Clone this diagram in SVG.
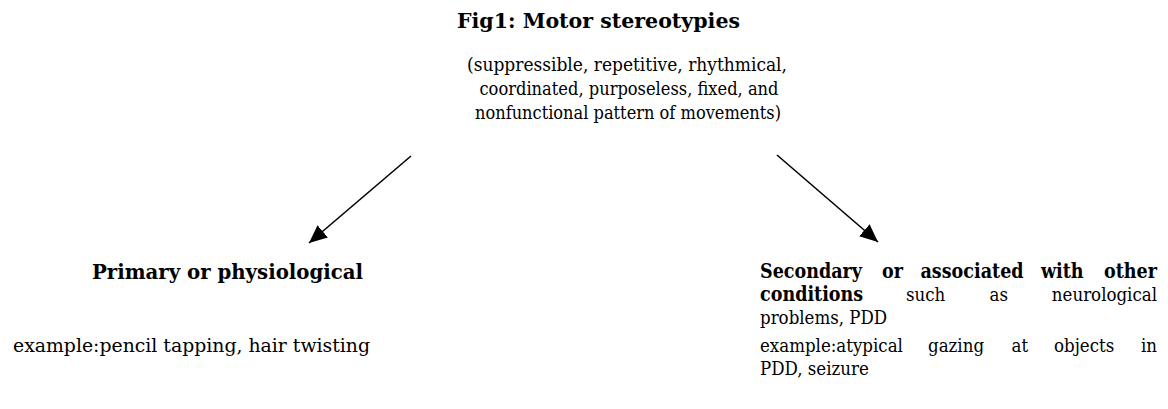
<svg xmlns="http://www.w3.org/2000/svg" width="1168" height="409" viewBox="0 0 1168 409">
<style>
text{font-family:"DejaVu Serif Condensed","DejaVu Serif","Liberation Serif",serif;font-stretch:condensed;fill:#000}
.b{font-weight:bold;font-size:19.5px}
.r{font-size:18.5px}
.e{text-anchor:end}
.conn{stroke:#000;stroke-width:1.6;fill:none}
</style>
<defs>
<marker id="ah" markerUnits="userSpaceOnUse" markerWidth="19" markerHeight="17" refX="18" refY="8" orient="auto">
<path d="M0,0 L18,8 L0,16 z" fill="#000"/>
</marker>
</defs>
<rect width="1168" height="409" fill="#fff"/>
<g id="root">
<text class="b" x="598.5" y="28" text-anchor="middle" textLength="283" lengthAdjust="spacingAndGlyphs">Fig1: Motor stereotypies</text>
<text class="r" x="627" y="71" text-anchor="middle" textLength="320" lengthAdjust="spacingAndGlyphs">(suppressible, repetitive, rhythmical,</text>
<text class="r" x="629" y="95" text-anchor="middle" textLength="299" lengthAdjust="spacingAndGlyphs">coordinated, purposeless, fixed, and</text>
<text class="r" x="628" y="119" text-anchor="middle" textLength="306" lengthAdjust="spacingAndGlyphs">nonfunctional pattern of movements)</text>
</g>
<g id="primary">
<text class="b" x="92" y="279" textLength="271" lengthAdjust="spacingAndGlyphs">Primary or physiological</text>
<text class="r" x="13" y="352" textLength="357" lengthAdjust="spacingAndGlyphs">example:pencil tapping, hair twisting</text>
</g>
<g id="secondary">
<text class="b" x="760" y="278">Secondary</text>
<text class="b" x="882" y="278">or</text>
<text class="b" x="920.5" y="278">associated</text>
<text class="b" x="1041" y="278">with</text>
<text class="b e" x="1157" y="278">other</text>
<text class="b" x="760" y="301">conditions</text>
<text class="r" x="906" y="301">such</text>
<text class="r" x="989.5" y="301">as</text>
<text class="r e" x="1157" y="301">neurological</text>
<text class="r" x="760" y="324">problems, PDD</text>
<text class="r" x="760" y="352">example:atypical</text>
<text class="r" x="928" y="352">gazing</text>
<text class="r" x="1011.5" y="352">at</text>
<text class="r" x="1054" y="352">objects</text>
<text class="r e" x="1157" y="352">in</text>
<text class="r" x="760" y="375">PDD, seizure</text>
</g>
<g id="connectors">
<line class="conn" x1="411" y1="156" x2="309" y2="243" marker-end="url(#ah)"/>
<line class="conn" x1="777" y1="155" x2="878" y2="242" marker-end="url(#ah)"/>
</g>
</svg>
